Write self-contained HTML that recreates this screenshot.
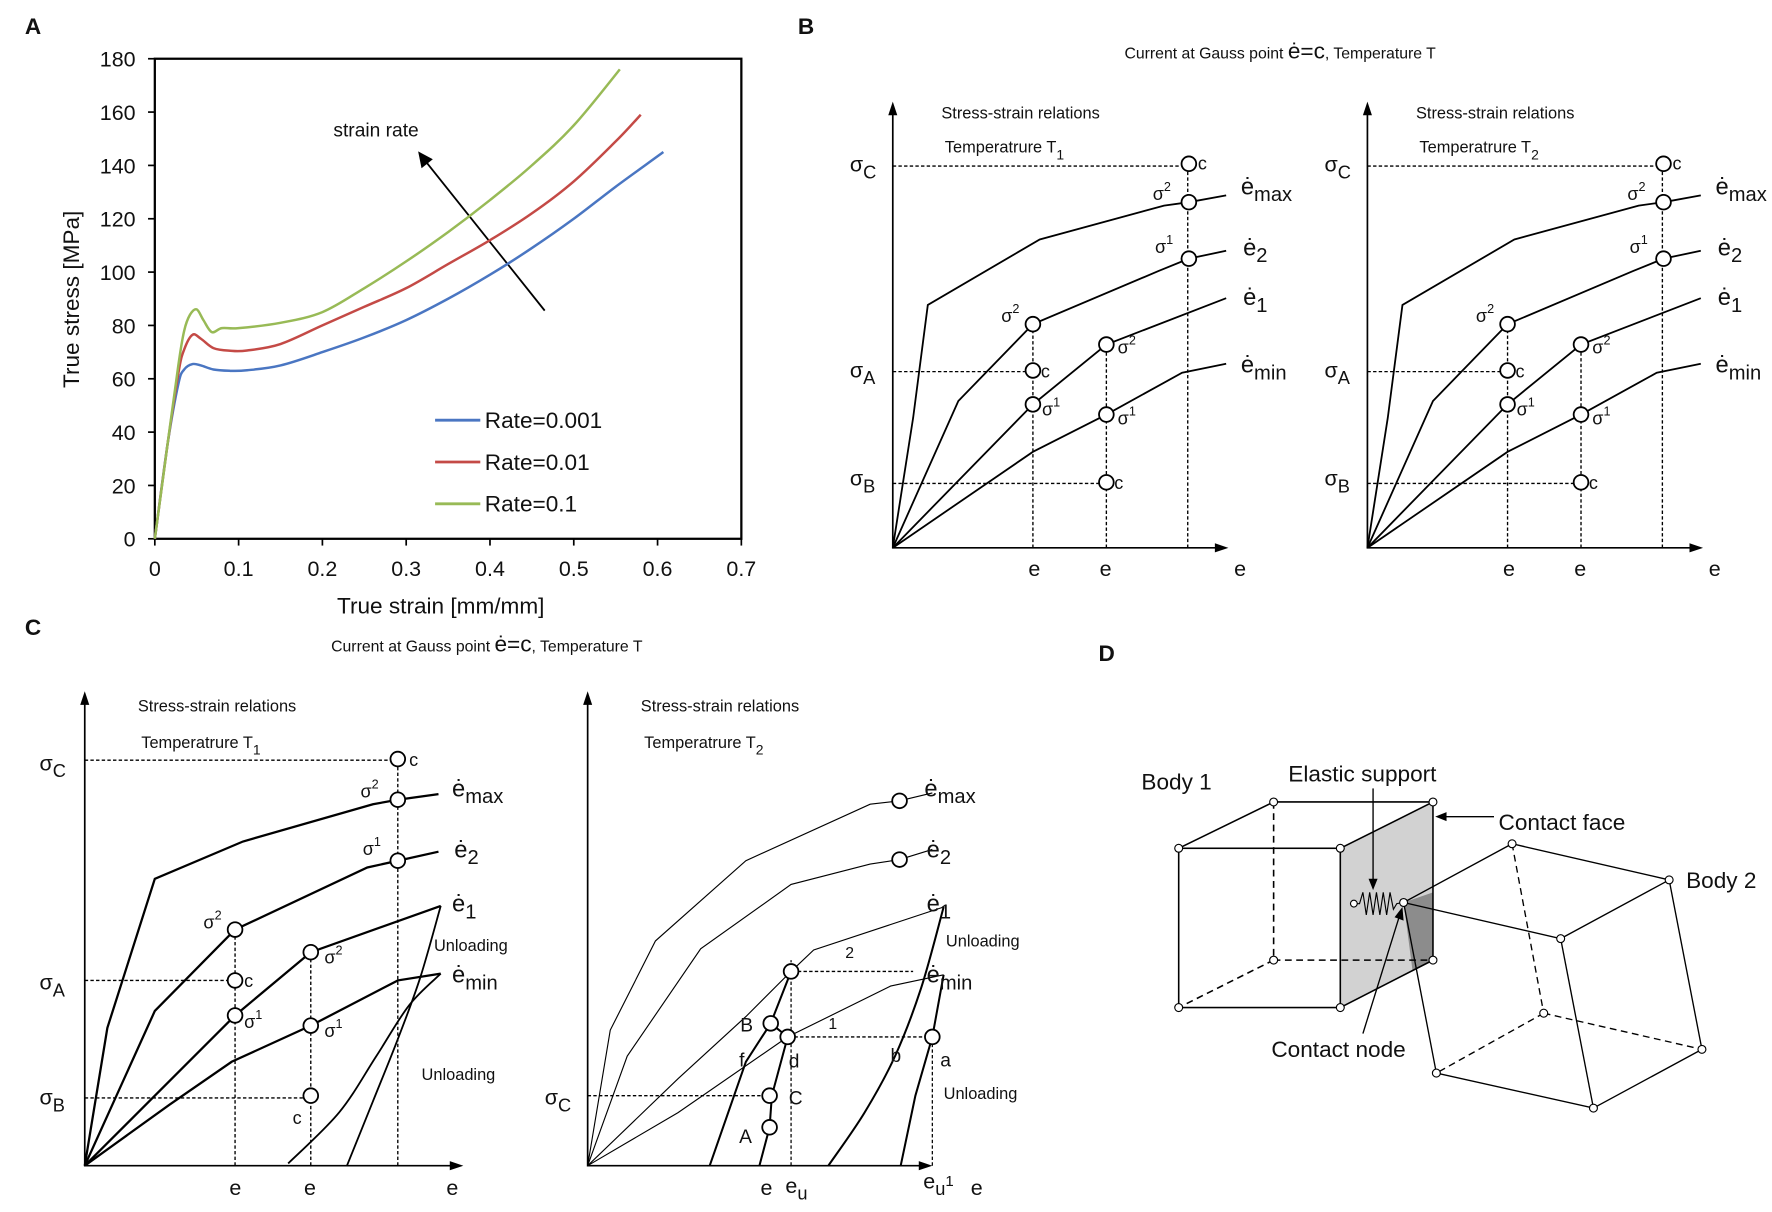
<!DOCTYPE html>
<html><head><meta charset="utf-8"><style>
html,body{margin:0;padding:0;background:#fff}
svg{display:block}
text{font-family:"Liberation Sans",sans-serif;fill:#111}
</style></head><body>
<svg id="fig" width="1772" height="1212" viewBox="0 0 1568 1073" preserveAspectRatio="none" xmlns="http://www.w3.org/2000/svg">
<g id="pa">
<text x="22" y="30" font-size="20" font-weight="bold">A</text>
<rect x="137" y="52" width="519" height="425" fill="none" stroke="#000" stroke-width="2"/>
<text x="295" y="121" font-size="17">strain rate</text>
<line x1="482" y1="275" x2="376" y2="142" stroke="#000" stroke-width="1.6"/>
<polygon points="370,134 373,149 383,141" fill="#000"/>
<text x="390" y="543" font-size="20" text-anchor="middle" fill="#222">True strain [mm/mm]</text>
<text transform="translate(70,265) rotate(-90)" font-size="20" text-anchor="middle" fill="#222">True stress [MPa]</text>
</g>
<g id="pb">
<text x="706" y="30" font-size="20" font-weight="bold">B</text>
<text x="995" y="52" font-size="14">Current at Gauss point <tspan font-size="20">ė=c</tspan>, Temperature T</text>
</g>
<g id="pc">
<text x="22" y="562" font-size="20" font-weight="bold">C</text>
<text x="293" y="577" font-size="14">Current at Gauss point <tspan font-size="20">ė=c</tspan>, Temperature T</text>
</g>
<g id="pd">
<text x="972" y="585" font-size="20" font-weight="bold">D</text>
<polygon points="1186,751 1268,710 1268,850 1186,892" fill="#d2d2d2"/>
<polygon points="1242,799 1268,790 1268,850 1250,860" fill="#8c8c8c"/>
<g stroke="#000" stroke-width="1.4" fill="none">
<rect x="1043" y="751" width="143" height="141"/>
<polyline points="1043,751 1127,710 1268,710 1186,751"/>
<line x1="1268" y1="710" x2="1268" y2="850"/><line x1="1186" y1="892" x2="1268" y2="850"/>
<g stroke-dasharray="6,4"><line x1="1127" y1="710" x2="1127" y2="850"/><line x1="1127" y1="850" x2="1268" y2="850"/><line x1="1127" y1="850" x2="1043" y2="892"/></g>
</g>
<g stroke="#000" stroke-width="1.2" fill="none">
<polyline points="1242,799 1338,747 1477,779 1381,831 1242,799 1271,950 1410,981 1506,929 1477,779"/>
<line x1="1381" y1="831" x2="1410" y2="981"/>
<g stroke-dasharray="6,4"><line x1="1338" y1="747" x2="1366" y2="897"/><line x1="1366" y1="897" x2="1506" y2="929"/><line x1="1366" y1="897" x2="1271" y2="950"/></g>
</g>
<polyline points="1198,800 1203,800 1206,790 1209,810 1212,790 1215,810 1218,790 1221,810 1224,790 1227,810 1230,790 1233,805 1236,800 1242,799" fill="none" stroke="#000" stroke-width="1"/>
<g fill="#fff" stroke="#000" stroke-width="1">
<circle cx="1043" cy="751" r="3.5"/><circle cx="1186" cy="751" r="3.5"/><circle cx="1043" cy="892" r="3.5"/><circle cx="1186" cy="892" r="3.5"/><circle cx="1127" cy="710" r="3.5"/><circle cx="1268" cy="710" r="3.5"/><circle cx="1127" cy="850" r="3.5"/><circle cx="1268" cy="850" r="3.5"/>
<circle cx="1338" cy="747" r="3.5"/><circle cx="1477" cy="779" r="3.5"/><circle cx="1242" cy="799" r="3.5"/><circle cx="1381" cy="831" r="3.5"/><circle cx="1366" cy="897" r="3.5"/><circle cx="1506" cy="929" r="3.5"/><circle cx="1271" cy="950" r="3.5"/><circle cx="1410" cy="981" r="3.5"/><circle cx="1198" cy="800" r="3"/>
</g>
<text x="1010" y="699" font-size="20">Body 1</text>
<text x="1492" y="786" font-size="20">Body 2</text>
<text x="1140" y="692" font-size="20">Elastic support</text>
<line x1="1215" y1="698" x2="1215" y2="780" stroke="#000" stroke-width="1.2"/>
<polygon points="1215,788 1211,778 1219,778" fill="#000"/>
<text x="1326" y="735" font-size="20">Contact face</text>
<line x1="1322" y1="723" x2="1278" y2="723" stroke="#000" stroke-width="1.2"/>
<polygon points="1270,723 1280,719 1280,727" fill="#000"/>
<text x="1125" y="936" font-size="20">Contact node</text>
<line x1="1206" y1="915" x2="1238" y2="812" stroke="#000" stroke-width="1.2"/>
<polygon points="1241,803 1242,815 1234,812" fill="#000"/>
</g>
</svg>
<script>
// ---- Panel A data ----
const strainBlue = [0,0.015,0.028,0.035,0.045,0.055,0.07,0.09,0.11,0.15,0.2,0.25,0.3,0.35,0.4,0.45,0.5,0.55,0.607];
const stressBlue = [0,35,58,63.5,65.5,65,63.5,63,63.2,65,70,75.5,82,90,99,109,120,132,145];
const strainRed = [0,0.015,0.028,0.035,0.045,0.055,0.07,0.09,0.11,0.15,0.2,0.25,0.3,0.35,0.4,0.45,0.5,0.55,0.58];
const stressRed = [0,35,62,71,76.5,75,71.5,70.5,70.6,73,80,87,94,103,112,122,134,149,159];
const strainGreen = [0,0.015,0.028,0.035,0.042,0.05,0.058,0.068,0.08,0.1,0.15,0.2,0.25,0.3,0.35,0.4,0.45,0.5,0.555];
const stressGreen = [0,35,65,78,84,86,82,77.5,79,79,81,85,94,104,115,127,140,155,176];
const seriesNames = ["Rate=0.001","Rate=0.01","Rate=0.1"];
const xTicks = [0,0.1,0.2,0.3,0.4,0.5,0.6,0.7];
const yTicks = [0,20,40,60,80,100,120,140,160,180];

const NS="http://www.w3.org/2000/svg";
function mk(tag,attrs,parent){const e=document.createElementNS(NS,tag);for(const k in attrs)e.setAttribute(k,attrs[k]);parent.appendChild(e);return e;}
const pa=document.getElementById('pa');
const xs=v=>137+v/0.7*519;
const ys=v=>477-v/180*425;
function smooth(P){
  let d='M'+P[0][0].toFixed(1)+','+P[0][1].toFixed(1);
  for(let i=0;i<P.length-1;i++){
    const p0=P[Math.max(i-1,0)],p1=P[i],p2=P[i+1],p3=P[Math.min(i+2,P.length-1)];
    const c1=[p1[0]+(p2[0]-p0[0])/6,p1[1]+(p2[1]-p0[1])/6];
    const c2=[p2[0]-(p3[0]-p1[0])/6,p2[1]-(p3[1]-p1[1])/6];
    d+=' C'+c1.map(v=>v.toFixed(1)).join(',')+' '+c2.map(v=>v.toFixed(1)).join(',')+' '+p2.map(v=>v.toFixed(1)).join(',');
  }
  return d;
}
xTicks.forEach(t=>{
  const l=mk('line',{x1:xs(t),x2:xs(t),y1:477,y2:483,stroke:'#000','stroke-width':1.5},pa);
  
  
  const tx=mk('text',{x:xs(t),y:510,'font-size':19,'text-anchor':'middle',fill:'#222'},pa);
  tx.textContent=t;
  
  
});
yTicks.forEach(t=>{
  const l=mk('line',{x1:131,x2:137,y1:ys(t),y2:ys(t),stroke:'#000','stroke-width':1.5},pa);
  
  
  const tx=mk('text',{x:120,y:ys(t)+7,'font-size':19,'text-anchor':'end',fill:'#222'},pa);
  tx.textContent=t;
  
  
});
const series=[[strainBlue,stressBlue,'#4a76c2'],[strainRed,stressRed,'#c44a46'],[strainGreen,stressGreen,'#98ba56']];
series.forEach((s,i)=>{
  const P=s[0].map((x,j)=>[xs(x),ys(s[1][j])]);
  const p=mk('path',{d:smooth(P),fill:'none',stroke:s[2],'stroke-width':2.2,'stroke-linejoin':'round'},pa);
  
  
  const ly=372+i*37;
  const ll=mk('line',{x1:385,x2:425,y1:ly,y2:ly,stroke:s[2],'stroke-width':2.5},pa);
  
  
  const lt=mk('text',{x:429,y:ly+7,'font-size':20,fill:'#555'},pa);
  lt.textContent=seriesNames[i];
  
  
});

function txt(g,x,y,s,size,sub,sup,name){
  const t=mk('text',{x:x,y:y,'font-size':size},g);
  t.textContent=s;
  if(sub){const ts=mk('tspan',{dy:6,'font-size':size*0.85},t);ts.textContent=sub;}
  if(sup){const ts=mk('tspan',{dy:-8,'font-size':size*0.7},t);ts.textContent=sup;}
  
  
  return t;
}
function axes(g,ox,oy,top,right){
  const a=mk('polyline',{points:`${ox},${top+6} ${ox},${oy} ${right-6},${oy}`,fill:'none',stroke:'#000','stroke-width':1.5},g);
  
  
  const h1=mk('polygon',{points:`${ox},${top} ${ox-4},${top+12} ${ox+4},${top+12}`,fill:'#000'},g);
  
  
  const h2=mk('polygon',{points:`${right},${oy} ${right-12},${oy-4} ${right-12},${oy+4}`,fill:'#000'},g);
  
  
}
function line(g,pts,w,name,dash){
  const p=mk('polyline',{points:pts.map(p=>p.join(',')).join(' '),fill:'none',stroke:'#000','stroke-width':w},g);
  if(dash)p.setAttribute('stroke-dasharray','3,2');
  
  
}
function curve(g,pts,w,name){
  const p=mk('path',{d:smooth(pts),fill:'none',stroke:'#000','stroke-width':w},g);
  
  
}
function circ(g,x,y,name){
  const c=mk('circle',{cx:x,cy:y,r:6.5,fill:'#fff',stroke:'#000','stroke-width':1.6},g);
  
  
}
function sub(g,ox){
  const X=dx=>ox+dx;
  axes(g,ox,485,90,ox+297);
  line(g,[[X(0),485],[X(18),370],[X(31),270],[X(130),212],[X(240),182],[X(262),179],[X(295),173]],1.6,'curve-e-max');
  line(g,[[X(0),485],[X(58),355],[X(124),287],[X(235),240],[X(262),229],[X(295),222]],1.6,'curve-e-2');
  line(g,[[X(0),485],[X(124),358],[X(189),305],[X(295),264]],1.6,'curve-e-1');
  line(g,[[X(0),485],[X(124),400],[X(189),367],[X(256),330],[X(295),322]],1.6,'curve-e-min');
  line(g,[[X(124),485],[X(124),287]],1.2,'dashed-guide',1);
  line(g,[[X(189),485],[X(189),305]],1.2,'dashed-guide',1);
  line(g,[[X(261),485],[X(261),145]],1.2,'dashed-guide',1);
  line(g,[[X(0),147],[X(255),147]],1.2,'dashed-guide',1);
  line(g,[[X(0),329],[X(118),329]],1.2,'dashed-guide',1);
  line(g,[[X(0),428],[X(183),428]],1.2,'dashed-guide',1);
  [[262,145],[262,179],[262,229],[124,287],[124,328],[124,358],[189,305],[189,367],[189,427]].forEach(p=>circ(g,X(p[0]),p[1],'state-point'));
  txt(g,X(270),150,'c',16,null,null,'point-label');
  txt(g,X(131),334,'c',16,null,null,'point-label');
  txt(g,X(196),433,'c',16,null,null,'point-label');
  txt(g,X(230),177,'σ',16,null,'2','point-label');
  txt(g,X(232),224,'σ',16,null,'1','point-label');
  txt(g,X(96),285,'σ',16,null,'2','point-label');
  txt(g,X(132),368,'σ',16,null,'1','point-label');
  txt(g,X(199),313,'σ',16,null,'2','point-label');
  txt(g,X(199),376,'σ',16,null,'1','point-label');
  txt(g,X(308),172,'ė',21,'max',null,'curve-label');
  txt(g,X(310),226,'ė',21,'2',null,'curve-label');
  txt(g,X(310),270,'ė',21,'1',null,'curve-label');
  txt(g,X(308),330,'ė',21,'min',null,'curve-label');
  txt(g,X(-38),152,'σ',19,'C',null,'sigma-c-label');
  txt(g,X(-38),334,'σ',19,'A',null,'sigma-a-label');
  txt(g,X(-38),430,'σ',19,'B',null,'sigma-b-label');
  txt(g,X(120),510,'e',19,null,null,'x-label');
  txt(g,X(183),510,'e',19,null,null,'x-label');
  txt(g,X(302),510,'e',19,null,null,'x-label');
  txt(g,X(43),105,'Stress-strain relations',14.5,null,null,'subplot-title');
  txt(g,X(46),135,'Temperatrure T',14.5,ox<1000?'1':'2',null,'subplot-temperature');
}
const pb=document.getElementById('pb');
sub(pb,790); sub(pb,1210);

// Panel C
const pc=document.getElementById('pc');
(function(){
  const g=pc;
  axes(g,75,1032,612,410);
  line(g,[[75,1032],[95,910],[137,778],[215,745],[330,712],[352,708],[388,703]],2,'curve-e-max');
  line(g,[[75,1032],[137,895],[208,823],[325,768],[352,762],[388,754]],2,'curve-e-2');
  line(g,[[75,1032],[208,899],[275,843],[390,802]],2,'curve-e-1');
  line(g,[[75,1032],[150,978],[205,940],[275,908],[352,868],[390,862]],2,'curve-e-min');
  curve(g,[[307,1032],[330,975],[352,920],[372,865],[390,802]],1.6,'unloading-1');
  curve(g,[[255,1030],[300,985],[333,935],[362,890],[390,862]],1.6,'unloading-2');
  line(g,[[208,1032],[208,823]],1.2,'dashed-guide',1);
  line(g,[[275,1032],[275,843]],1.2,'dashed-guide',1);
  line(g,[[352,1032],[352,672]],1.2,'dashed-guide',1);
  line(g,[[75,673],[345,673]],1.2,'dashed-guide',1);
  line(g,[[75,868],[201,868]],1.2,'dashed-guide',1);
  line(g,[[75,972],[268,972]],1.2,'dashed-guide',1);
  [[352,672],[352,708],[352,762],[208,823],[208,868],[208,899],[275,843],[275,908],[275,970]].forEach(p=>circ(g,p[0],p[1],'state-point'));
  txt(g,362,678,'c',16,null,null,'point-label');
  txt(g,216,874,'c',16,null,null,'point-label');
  txt(g,259,995,'c',16,null,null,'point-label');
  txt(g,319,706,'σ',16,null,'2','point-label');
  txt(g,321,757,'σ',16,null,'1','point-label');
  txt(g,180,822,'σ',16,null,'2','point-label');
  txt(g,216,910,'σ',16,null,'1','point-label');
  txt(g,287,853,'σ',16,null,'2','point-label');
  txt(g,287,918,'σ',16,null,'1','point-label');
  txt(g,400,705,'ė',21,'max',null,'curve-label');
  txt(g,402,759,'ė',21,'2',null,'curve-label');
  txt(g,400,807,'ė',21,'1',null,'curve-label');
  txt(g,400,870,'ė',21,'min',null,'curve-label');
  txt(g,384,842,'Unloading',14.5,null,null,'unloading-label');
  txt(g,373,956,'Unloading',14.5,null,null,'unloading-label');
  txt(g,35,682,'σ',19,'C',null,'sigma-c-label');
  txt(g,35,876,'σ',19,'A',null,'sigma-a-label');
  txt(g,35,978,'σ',19,'B',null,'sigma-b-label');
  txt(g,203,1058,'e',19,null,null,'x-label');
  txt(g,269,1058,'e',19,null,null,'x-label');
  txt(g,395,1058,'e',19,null,null,'x-label');
  txt(g,122,630,'Stress-strain relations',14.5,null,null,'subplot-title');
  txt(g,125,662,'Temperatrure T',14.5,'1',null,'subplot-temperature');
  // right subplot
  axes(g,520,1032,612,825);
  line(g,[[520,1032],[540,912],[580,833],[660,762],[770,712],[796,709],[825,702]],1,'curve-e-max');
  line(g,[[520,1032],[555,935],[620,840],[700,783],[770,765],[796,761],[825,752]],1,'curve-e-2');
  line(g,[[520,1032],[600,955],[660,900],[700,860],[720,841],[835,803]],1,'curve-e-1');
  line(g,[[520,1032],[600,985],[697,918],[788,873],[835,863]],1,'curve-e-min');
  curve(g,[[733,1032],[765,985],[792,935],[815,875],[835,803]],1.8,'unloading-e1');
  line(g,[[835,863],[825,918],[810,970],[797,1032]],1.8,'unloading-emin');
  line(g,[[628,1032],[660,940],[682,906],[700,860]],1.8,'reload-path-f');
  line(g,[[672,1032],[681,998],[683,970],[697,918],[682,906]],1.8,'reload-path-d');
  line(g,[[700,1032],[700,850]],1.1,'dashed-guide',1);
  line(g,[[825,1032],[825,918]],1.1,'dashed-guide',1);
  line(g,[[706,860],[808,860]],1.2,'dashed-guide',1);
  line(g,[[703,918],[819,918]],1.2,'dashed-guide',1);
  line(g,[[520,970],[675,970]],1.2,'dashed-guide',1);
  [[796,709],[796,761],[700,860],[682,906],[697,918],[825,918],[681,970],[681,998]].forEach(p=>circ(g,p[0],p[1],'state-point'));
  txt(g,818,705,'ė',21,'max',null,'curve-label');
  txt(g,820,759,'ė',21,'2',null,'curve-label');
  txt(g,820,807,'ė',21,'1',null,'curve-label');
  txt(g,820,870,'ė',21,'min',null,'curve-label');
  txt(g,837,838,'Unloading',14.5,null,null,'unloading-label');
  txt(g,835,973,'Unloading',14.5,null,null,'unloading-label');
  txt(g,748,848,'2',14,null,null,'path-label');
  txt(g,733,911,'1',14,null,null,'path-label');
  txt(g,655,913,'B',17,null,null,'point-label');
  txt(g,654,944,'f',17,null,null,'point-label');
  txt(g,698,945,'d',17,null,null,'point-label');
  txt(g,788,940,'b',17,null,null,'point-label');
  txt(g,832,944,'a',17,null,null,'point-label');
  txt(g,698,978,'C',17,null,null,'point-label');
  txt(g,654,1012,'A',17,null,null,'point-label');
  txt(g,482,978,'σ',19,'C',null,'sigma-c-label');
  txt(g,673,1058,'e',19,null,null,'x-label');
  txt(g,695,1056,'e',19,'u',null,'x-label-eu');
  txt(g,817,1052,'e',19,'u','1','x-label-eu1');
  txt(g,859,1058,'e',19,null,null,'x-label');
  txt(g,567,630,'Stress-strain relations',14.5,null,null,'subplot-title');
  txt(g,570,662,'Temperatrure T',14.5,'2',null,'subplot-temperature');
})();
</script>
</body></html>
